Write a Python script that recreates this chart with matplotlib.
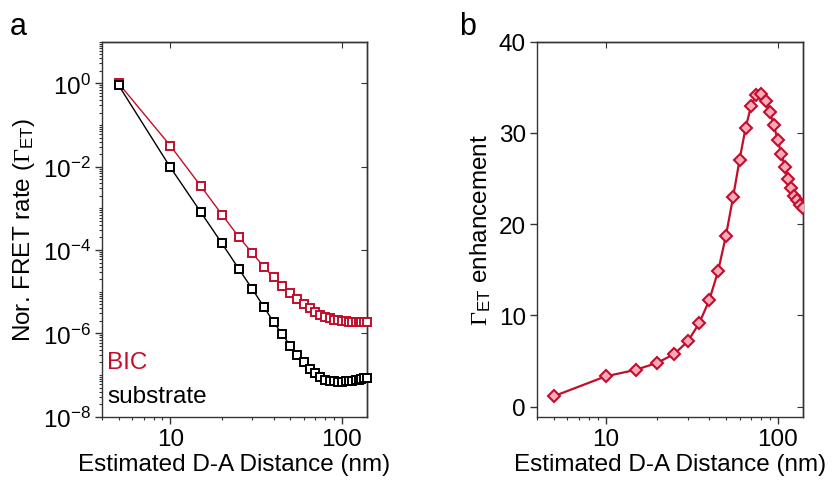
import math

import matplotlib
matplotlib.use("Agg")
import matplotlib.pyplot as plt
from matplotlib.ticker import FuncFormatter, LogLocator, NullFormatter, FixedLocator

plt.rcParams["font.family"] = ["Liberation Sans", "DejaVu Sans"]
plt.rcParams["mathtext.fontset"] = "custom"
plt.rcParams["mathtext.rm"] = "Liberation Serif"
plt.rcParams["mathtext.sf"] = "Liberation Sans"
plt.rcParams["mathtext.it"] = "Liberation Serif:italic"
plt.rcParams["axes.linewidth"] = 1.0

RED = "#C20E2C"
PINK = "#F8AABA"
SPINE = "#333333"

# D-A distance (nm)
distance = [5, 10, 15, 20, 25, 30, 35, 40, 45, 50, 55, 60, 65, 70, 75, 80, 85,
            90, 95, 100, 105, 110, 115, 120, 125, 130, 135, 140]

# normalized FRET rate, BIC
rate_bic = [1.0, 3.2e-2, 3.5e-3, 7.1e-4, 2.1e-4, 8.5e-5, 4.0e-5, 2.2e-5, 1.36e-5,
            9.2e-6, 6.6e-6, 5.0e-6, 4.0e-6, 3.3e-6, 2.8e-6, 2.45e-6, 2.3e-6,
            2.15e-6, 2.05e-6, 2.0e-6, 1.95e-6, 1.9e-6, 1.88e-6, 1.86e-6, 1.85e-6,
            1.85e-6, 1.86e-6, 1.87e-6]

# normalized FRET rate, substrate
rate_sub = [0.9, 9.7e-3, 8.3e-4, 1.44e-4, 3.6e-5, 1.17e-5, 4.4e-6, 1.86e-6, 9.4e-7,
            5.1e-7, 3.0e-7, 2.0e-7, 1.4e-7, 1.1e-7, 8.9e-8, 7.8e-8, 7.2e-8,
            7.0e-8, 6.9e-8, 6.9e-8, 7.0e-8, 7.1e-8, 7.3e-8, 7.5e-8, 7.8e-8,
            8.0e-8, 8.3e-8, 8.6e-8]

# enhancement BIC / substrate
enhancement = [1.14, 3.32, 4.04, 4.81, 5.76, 7.15, 9.15, 11.66, 14.83, 18.73,
               22.95, 27.07, 30.53, 32.97, 34.17, 34.28, 33.55, 32.28, 30.82,
               29.18, 27.69, 26.23, 25.0, 23.98, 23.14, 22.62, 22.15, 21.79]

FS = 17.5

fig = plt.figure(figsize=(8.32, 4.81), dpi=100)
ax_a = fig.add_axes([0.1226, 0.1316, 0.3185, 0.7796])
ax_b = fig.add_axes([0.6454, 0.1316, 0.3197, 0.7796])


def add_mirror(ax, yticks):
    # inward ticks on the right / top, no labels
    sy = ax.secondary_yaxis("right")
    sy.tick_params(which="major", direction="in", length=4, labelright=False, color=SPINE)
    sy.tick_params(which="minor", length=0)
    sy.yaxis.set_major_locator(FixedLocator(yticks))
    sy.spines["right"].set_color(SPINE)
    sx = ax.secondary_xaxis("top")
    sx.tick_params(which="major", direction="in", length=4, labeltop=False, color=SPINE)
    sx.tick_params(which="minor", length=0)
    sx.xaxis.set_major_locator(FixedLocator([10, 100]))
    sx.spines["top"].set_color(SPINE)


# panel a
ax_a.plot(distance, rate_bic, "-s", color=RED, lw=1.0, ms=5.5, mfc="white",
          mec=RED, mew=1.4, clip_on=False, zorder=3)
ax_a.plot(distance, rate_sub, "-s", color="black", lw=1.0, ms=5.5, mfc="white",
          mec="black", mew=1.4, clip_on=False, zorder=3)
ax_a.set_xscale("log")
ax_a.set_yscale("log")
ax_a.set_xlim(4, 140)
ax_a.set_ylim(1e-8, 1e1)
ax_a.yaxis.set_major_locator(FixedLocator([1e-8, 1e-6, 1e-4, 1e-2, 1e0]))
ax_a.yaxis.set_major_formatter(FuncFormatter(lambda v, p: r"$\mathsf{10^{%d}}$" % round(math.log10(v))))
ax_a.yaxis.set_minor_locator(LogLocator(base=10, subs=range(1, 10), numticks=20))
ax_a.yaxis.set_minor_formatter(NullFormatter())
ax_a.set_ylabel(r"Nor. FRET rate ($\Gamma_{\mathsf{ET}}$)", fontsize=FS)
ax_a.text(0.02, 0.13, "BIC", color=RED, fontsize=FS, transform=ax_a.transAxes)
ax_a.text(0.02, 0.04, "substrate", color="black", fontsize=FS, transform=ax_a.transAxes)

# panel b
ax_b.plot(distance, enhancement, "-D", color=RED, lw=1.6, ms=6.5, mfc=PINK,
          mec=RED, mew=1.5, clip_on=True, zorder=3)
ax_b.set_xscale("log")
ax_b.set_xlim(4, 140)
ax_b.set_ylim(-1.1, 40)
ax_b.set_yticks([0, 10, 20, 30, 40])
ax_b.set_ylabel(r"$\Gamma_{\mathsf{ET}}$ enhancement", fontsize=FS)

for ax, yt in ((ax_a, [1e-8, 1e-6, 1e-4, 1e-2, 1e0]), (ax_b, [0, 10, 20, 30])):
    for s in ax.spines.values():
        s.set_color(SPINE)
    ax.xaxis.set_major_locator(FixedLocator([10, 100]))
    ax.xaxis.set_major_formatter(FuncFormatter(lambda v, p: "%d" % v))
    ax.xaxis.set_minor_locator(LogLocator(base=10, subs=range(2, 10), numticks=20))
    ax.xaxis.set_minor_formatter(NullFormatter())
    ax.tick_params(which="major", direction="out", length=5, width=1, labelsize=FS,
                   color=SPINE, pad=3)
    ax.tick_params(which="minor", direction="out", length=2.5, width=0.8, color=SPINE)
    ax.set_xlabel("Estimated D-A Distance (nm)", fontsize=FS, labelpad=2)
    add_mirror(ax, yt)

fig.text(10 / 832, 1 - 35 / 481, "a", fontsize=22)
fig.text(459 / 832, 1 - 35 / 481, "b", fontsize=22)

fig.savefig("out.png", dpi=100)
